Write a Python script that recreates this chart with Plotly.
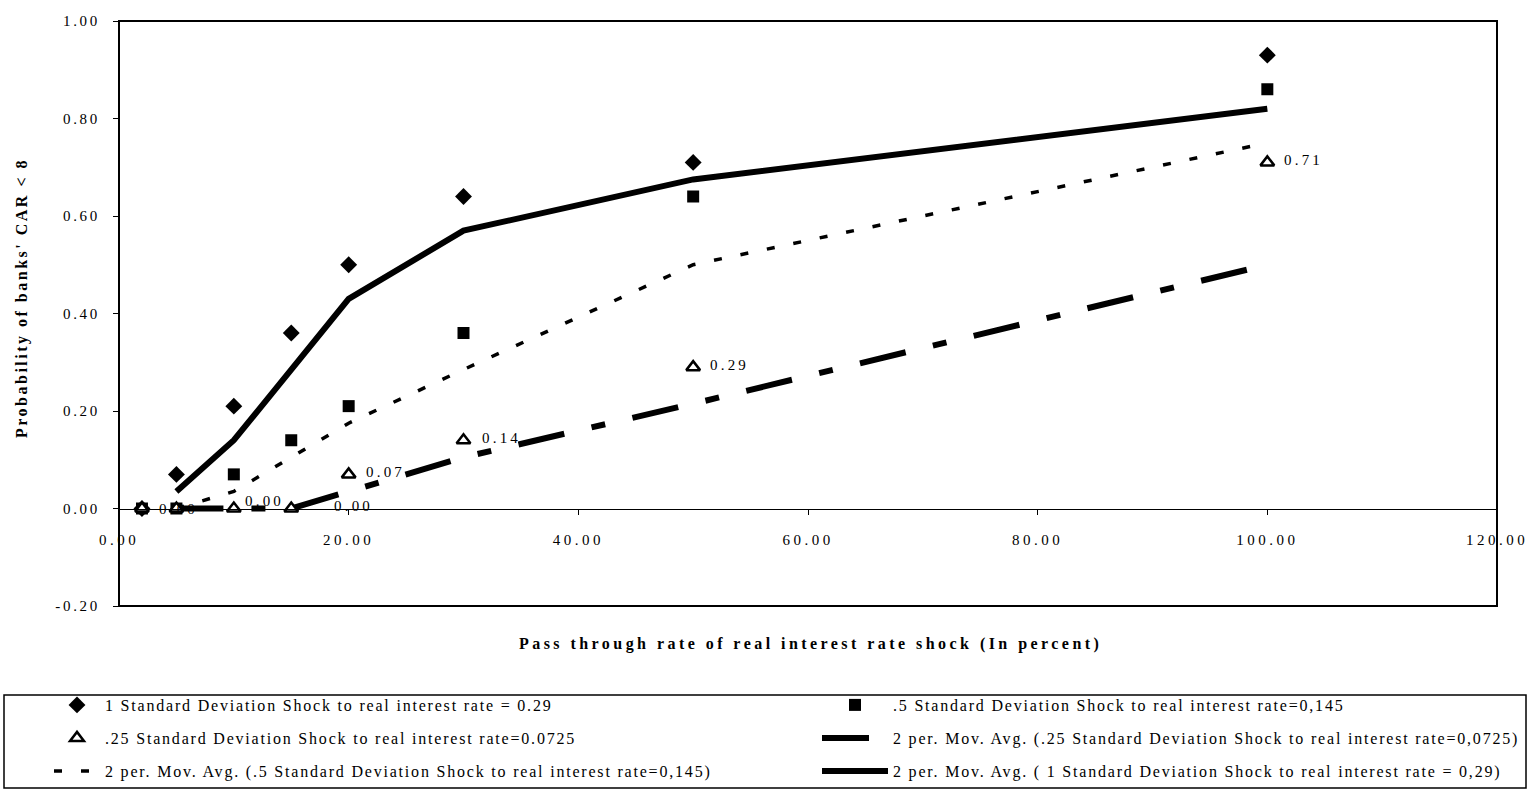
import pandas as pd
import plotly.graph_objects as go

# Pass-through rate of the real interest rate shock (percent)
pass_rate = [2, 5, 10, 15, 20, 30, 50, 100]

# Probability that banks' CAR falls below 8, by shock size
shock_1sd = [0.00, 0.07, 0.21, 0.36, 0.50, 0.64, 0.71, 0.93]
shock_05sd = [0.00, 0.00, 0.07, 0.14, 0.21, 0.36, 0.64, 0.86]
shock_025sd = [0.00, 0.00, 0.00, 0.00, 0.07, 0.14, 0.29, 0.71]

x_ticks = [0, 20, 40, 60, 80, 100, 120]
y_ticks = [-0.2, 0.0, 0.2, 0.4, 0.6, 0.8, 1.0]

names = {
    "d": "1 Standard Deviation Shock to real interest rate = 0.29",
    "s": ".5 Standard Deviation Shock to real interest rate=0,145",
    "t": ".25 Standard Deviation Shock to real interest rate=0.0725",
    "t_ma": "2 per. Mov. Avg. (.25 Standard Deviation Shock to real interest rate=0,0725)",
    "s_ma": "2 per. Mov. Avg. (.5 Standard Deviation Shock to real interest rate=0,145)",
    "d_ma": "2 per. Mov. Avg. ( 1 Standard Deviation Shock to real interest rate = 0,29)",
}

FONT = "Liberation Serif"
W, H = 1532, 790
ML, MR, MT, MB = 119, 35, 21, 184
PW, PH = W - ML - MR, H - MT - MB
LEG_SP = 1.8


def spaced(text, px):
    return f"<span style='letter-spacing:{px}px'>{text}</span>"


def px_x(xpix):
    return (xpix - ML) / PW


def px_y(ypix):
    return (H - MB - ypix) / PH


def moving_avg(vals):
    s = pd.Series(vals, dtype=float).rolling(2).mean()
    return pass_rate[1:], s.iloc[1:].tolist()


fig = go.Figure()

# 2-period moving-average trendlines
mx, my = moving_avg(shock_025sd)
fig.add_trace(go.Scatter(x=mx, y=my, mode="lines", name=spaced(names["t_ma"], LEG_SP),
                         line=dict(color="black", width=6, dash="47px,28px,14px,28px"),
                         legend="legend4"))
mx, my = moving_avg(shock_05sd)
fig.add_trace(go.Scatter(x=mx, y=my, mode="lines", name=spaced(names["s_ma"], LEG_SP),
                         line=dict(color="black", width=3.5, dash="8px,19px"),
                         legend="legend5"))
mx, my = moving_avg(shock_1sd)
fig.add_trace(go.Scatter(x=mx, y=my, mode="lines", name=spaced(names["d_ma"], LEG_SP),
                         line=dict(color="black", width=6),
                         legend="legend6"))

# Observed probabilities
fig.add_trace(go.Scatter(x=pass_rate, y=shock_1sd, mode="markers", name=spaced(names["d"], LEG_SP),
                         marker=dict(symbol="diamond", size=13, color="black"),
                         legend="legend"))
fig.add_trace(go.Scatter(x=pass_rate, y=shock_05sd, mode="markers", name=spaced(names["s"], LEG_SP),
                         marker=dict(symbol="square", size=12, color="black"),
                         legend="legend2"))
fig.add_trace(go.Scatter(x=pass_rate, y=shock_025sd, mode="markers", name=spaced(names["t"], LEG_SP),
                         marker=dict(symbol="triangle-up", size=12, color="white",
                                     line=dict(color="black", width=2.5)),
                         legend="legend3"))

# Value labels for the .25 SD series (shift in px per point index)
label_shift = {0: (15, 0), 2: (9, 8), 3: (41, 3), 4: (15, 2), 5: (16, 2), 6: (15, 2), 7: (15, 2)}
annotations = []
for i, (xv, yv) in enumerate(zip(pass_rate, shock_025sd)):
    if i not in label_shift:
        continue
    dx, dy = label_shift[i]
    annotations.append(dict(x=xv, y=yv, xref="x", yref="y", text=spaced(f"{yv:.2f}", 3.2),
                            showarrow=False, xanchor="left", yanchor="middle",
                            xshift=dx, yshift=dy,
                            font=dict(family=FONT, size=15, color="black")))

# Axis titles
annotations.append(dict(x=px_x(810), y=px_y(644), xref="paper", yref="paper",
                        text=spaced("<b>Pass through rate of real interest rate shock (In percent)</b>", 3.45),
                        showarrow=False, xanchor="center", yanchor="middle",
                        font=dict(family=FONT, size=16, color="black")))
annotations.append(dict(x=px_x(22), y=px_y(298), xref="paper", yref="paper",
                        text=spaced("<b>Probability of banks' CAR &lt; 8</b>", 2.5),
                        textangle=-90, showarrow=False, xanchor="center", yanchor="middle",
                        font=dict(family=FONT, size=16, color="black")))

shapes = [
    # plot frame
    dict(type="rect", xref="x domain", yref="y domain", x0=0, x1=1, y0=0, y1=1,
         line=dict(color="black", width=2), fillcolor="rgba(0,0,0,0)"),
    # legend frame
    dict(type="rect", xref="paper", yref="paper", x0=px_x(4), x1=px_x(1526),
         y0=px_y(788), y1=px_y(695), line=dict(color="black", width=1.5),
         fillcolor="rgba(0,0,0,0)"),
]

left_x, right_x = px_x(49), px_x(817)
row_y = [px_y(705), px_y(738), px_y(771)]


def leg(x, y, item_w):
    return dict(x=x, y=y, xanchor="left", yanchor="middle", orientation="h",
                bgcolor="rgba(0,0,0,0)", borderwidth=0, itemwidth=item_w,
                font=dict(family=FONT, size=16, color="black"))


fig.update_layout(
    width=W, height=H,
    margin=dict(l=ML, r=MR, t=MT, b=MB, autoexpand=False),
    paper_bgcolor="white", plot_bgcolor="white",
    showlegend=True,
    legend=leg(left_x, row_y[0], 46),
    legend2=leg(right_x, row_y[0], 66),
    legend3=leg(left_x, row_y[1], 46),
    legend4=leg(right_x, row_y[1], 66),
    legend5=leg(left_x, row_y[2], 46),
    legend6=leg(right_x, row_y[2], 66),
    annotations=annotations,
    shapes=shapes,
    xaxis=dict(range=[0, 120], tickvals=x_ticks,
               ticktext=[spaced(f"{v:.2f}", 3.5) for v in x_ticks],
               anchor="free", position=0.2 / 1.2,
               showline=True, linecolor="black", linewidth=1,
               ticks="outside", ticklen=5, tickcolor="black", tickwidth=1,
               ticklabelstandoff=12, showgrid=False, zeroline=False,
               tickfont=dict(family=FONT, size=15, color="black")),
    yaxis=dict(range=[-0.2, 1.0], domain=[0, 1], tickvals=y_ticks,
               ticktext=[spaced(f"{v:.2f}", 2.7) for v in y_ticks],
               showline=False, ticks="outside", ticklen=5, tickcolor="black",
               tickwidth=1, ticklabelstandoff=10, showgrid=False, zeroline=False,
               tickfont=dict(family=FONT, size=15, color="black")),
)

fig.write_html("out.html")
